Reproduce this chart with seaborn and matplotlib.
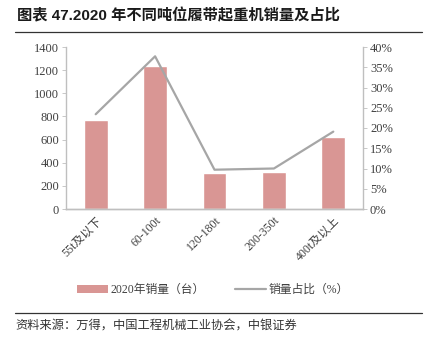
import matplotlib
matplotlib.use("Agg")
import matplotlib.pyplot as plt
import seaborn as sns
import pandas as pd
from matplotlib.lines import Line2D
from matplotlib.patches import Patch
from matplotlib.ticker import FuncFormatter

categories = ["55t及以下", "60-100t", "120-180t", "200-350t", "400t及以上"]
sales = [770, 1235, 310, 321, 623]
share = [23.4, 37.7, 9.7, 10.0, 19.1]

sns.set_style("white")
serif = ["Liberation Serif", "Noto Sans CJK SC"]
plt.rcParams["font.family"] = serif

df = pd.DataFrame({"cat": categories, "sales": sales, "share": share})

fig = plt.figure(figsize=(4.35, 3.47), dpi=100)
ax = fig.add_axes([66/435, 1-209/347, 297/435, 162/347])

bar_color = "#D99694"
sns.barplot(data=df, x="cat", y="sales", color=bar_color, width=0.4, ax=ax,
            saturation=1)
ax.set_ylim(0, 1400)
ax.set_yticks(range(0, 1401, 200))
ax.set_xlim(-0.5, 4.5)
ax.set_xlabel("")
ax.set_ylabel("")

ax2 = ax.twinx()
sns.lineplot(x=list(range(len(categories))), y=share, ax=ax2, color="#A6A6A6",
             linewidth=1.6)
ax2.set_ylim(0, 40)
ax2.set_yticks(range(0, 41, 5))
ax2.yaxis.set_major_formatter(FuncFormatter(lambda v, p: f"{int(v)}%"))
ax2.set_xlim(-0.5, 4.5)

for a in (ax, ax2):
    a.spines["top"].set_visible(False)
    for s in ("left", "right", "bottom"):
        a.spines[s].set_color("#BFBFBF")
        a.spines[s].set_linewidth(1.0)
    a.tick_params(axis="y", length=3, width=0.6, color="#BFBFBF",
                  labelsize=9, labelcolor="#404040", pad=2)
ax.spines["right"].set_visible(False)
ax2.spines["left"].set_visible(False)
ax.tick_params(axis="x", length=0, labelsize=8.5, labelcolor="#404040", pad=4)
for lbl in ax.get_xticklabels():
    lbl.set_rotation(45)
    lbl.set_ha("right")
    lbl.set_rotation_mode("anchor")

handles = [Patch(facecolor=bar_color, edgecolor="none"),
           Line2D([0], [0], color="#A6A6A6", linewidth=1.6)]
fig.legend(handles, ["2020年销量（台）", "销量占比（%）"], loc="center",
           bbox_to_anchor=(213/435, 1-290/347), ncol=2, frameon=False,
           fontsize=8.5, handlelength=2.6, handleheight=0.6, columnspacing=2.6,
           handletextpad=0.2, labelcolor="#404040")

fig.text(17/435, 1-16/347, "图表 47.2020 年不同吨位履带起重机销量及占比",
         fontsize=11, fontweight="bold", va="center", ha="left",
         family=["Liberation Sans", "Noto Sans CJK SC"], color="#1a1a1a")
fig.add_artist(Line2D([15/435, 422/435], [1-32/347, 1-32/347], color="#333333",
                      linewidth=0.9, transform=fig.transFigure))
fig.add_artist(Line2D([15/435, 422/435], [1-313/347, 1-313/347], color="#333333",
                      linewidth=0.9, transform=fig.transFigure))
fig.text(15/435, 1-326/347, "资料来源：万得，中国工程机械工业协会，中银证券",
         fontsize=8.8, style="italic", va="center", ha="left",
         family=["Noto Sans CJK SC"], color="#333333")

fig.savefig("out.png", dpi=100)
